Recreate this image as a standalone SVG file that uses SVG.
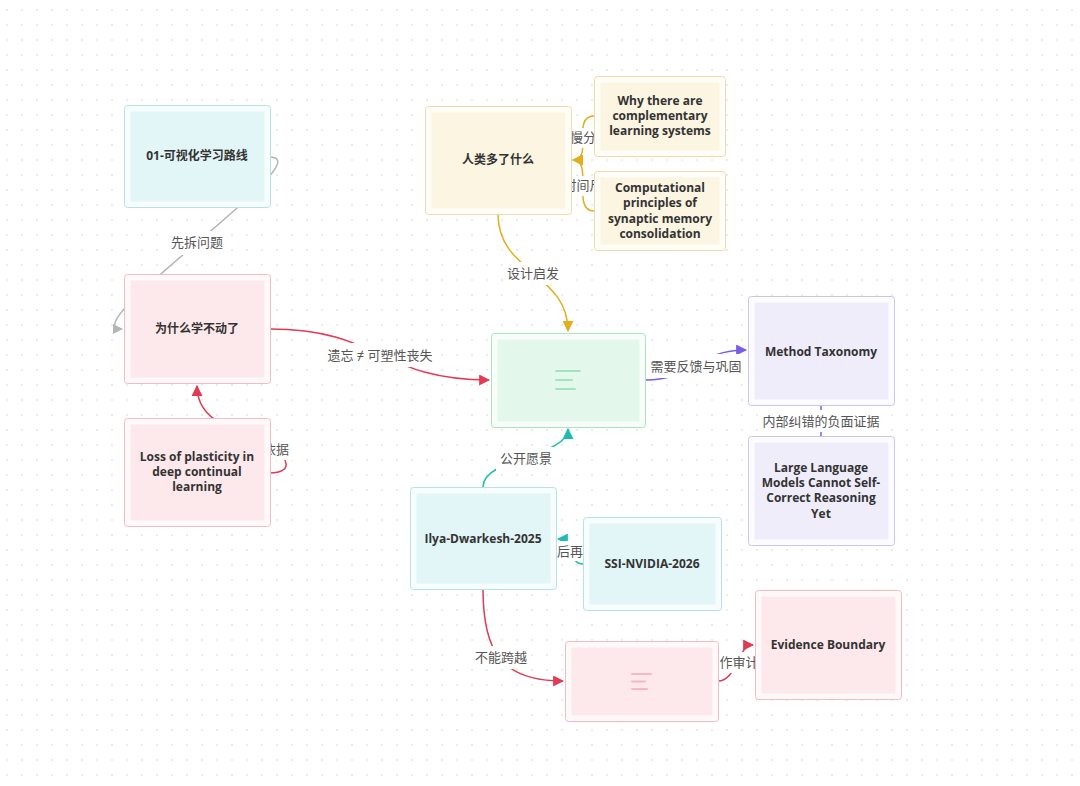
<svg xmlns="http://www.w3.org/2000/svg" width="1080" height="786" viewBox="0 0 1080 786">
<defs>
<pattern id="dots" x="0" y="0" width="15" height="15" patternUnits="userSpaceOnUse">
<circle cx="7" cy="10" r="0.9" fill="#e2e2e2"/>
</pattern>
<marker id="aGrey" viewBox="0 0 10 10" refX="9" refY="5" markerWidth="10" markerHeight="10" markerUnits="userSpaceOnUse" orient="auto"><path d="M0,0 L10,5 L0,10 z" fill="#b5b5b5"/></marker>
<marker id="aRed" viewBox="0 0 10 10" refX="9" refY="5" markerWidth="11" markerHeight="11" markerUnits="userSpaceOnUse" orient="auto"><path d="M0,0 L10,5 L0,10 z" fill="#e23a52"/></marker>
<marker id="aYel" viewBox="0 0 10 10" refX="9" refY="5" markerWidth="11" markerHeight="11" markerUnits="userSpaceOnUse" orient="auto"><path d="M0,0 L10,5 L0,10 z" fill="#e3ad1c"/></marker>
<marker id="aPur" viewBox="0 0 10 10" refX="9" refY="5" markerWidth="11" markerHeight="11" markerUnits="userSpaceOnUse" orient="auto"><path d="M0,0 L10,5 L0,10 z" fill="#7a5ce8"/></marker>
<marker id="aTeal" viewBox="0 0 10 10" refX="9" refY="5" markerWidth="11" markerHeight="11" markerUnits="userSpaceOnUse" orient="auto"><path d="M0,0 L10,5 L0,10 z" fill="#1fbab2"/></marker>
</defs>
<style>
.e{fill:none;stroke-width:1.5}
.grey{stroke:#b5b5b5}
.red{stroke:#e23a52}
.yel{stroke:#e3ad1c}
.pur{stroke:#7a5ce8}
.teal{stroke:#1fbab2}
.lb{fill:#ffffff}
.l{font-family:"Noto Sans","Noto Sans CJK SC",sans-serif;font-size:13px;fill:#555555;text-anchor:middle}
.o{stroke-width:1}
.t{font-family:"Open Sans","Noto Sans CJK SC",sans-serif;font-weight:700;font-size:12px;fill:#333333;text-anchor:middle}
.cy .o{fill:#f7fcfc;stroke:#b3e3e5}
.cy .i{fill:#e2f5f7}
.pk .o{fill:#fff9fa;stroke:#f3bcc4}
.pk .i{fill:#fde9eb}
.ye .o{fill:#fffdf7;stroke:#efdcaa}
.ye .i{fill:#fbf5e2}
.gr .o{fill:#f8fdfa;stroke:#a9e5c2}
.gr .i{fill:#e4f7eb}
.pu .o{fill:#fcfbff;stroke:#cdc4ec}
.pu .i{fill:#f0edfb}
.ic{stroke-width:2;stroke-linecap:round}
</style>
<rect x="0" y="0" width="1080" height="786" fill="#ffffff"/>
<rect x="0" y="0" width="1080" height="786" fill="url(#dots)"/>

<g id="connectors">
<path class="e grey" d="M270,157 C325,157 69,329 122,329" marker-end="url(#aGrey)"/>
<rect class="lb" x="168" y="231" width="58" height="24"/>
<text class="l" x="197" y="247">先拆问题</text>

<path class="e red" d="M270,329 C380,329 380,380 489,380" marker-end="url(#aRed)"/>
<rect class="lb" x="321" y="343" width="118" height="24"/>
<text class="l" x="380" y="360">遗忘 ≠ 可塑性丧失</text>

<path class="e red" d="M270,473 C293,473 290,458 270,446 L222,424 C205,415 197,402 197,386" marker-end="url(#aRed)"/>
<rect class="lb" x="261" y="440" width="32" height="20"/>
<text class="l" x="276" y="454">依据</text>

<path class="e yel" d="M594,116 C571,116 594,160 573,160" marker-end="url(#aYel)"/>
<path class="e yel" d="M594,211 C571,211 594,160 573,160" marker-end="url(#aYel)"/>
<rect class="lb" x="567" y="128" width="32" height="20"/>
<text class="l" x="583" y="142">慢分</text>
<rect class="lb" x="561" y="176" width="44" height="20"/>
<text class="l" x="583" y="190">时间尺</text>

<path class="e yel" d="M498,214 C498,273 568,273 568,331" marker-end="url(#aYel)"/>
<rect class="lb" x="503" y="262" width="60" height="23"/>
<text class="l" x="533" y="278">设计启发</text>

<path class="e pur" d="M645,380 C696,380 696,350 746,350" marker-end="url(#aPur)"/>
<rect class="lb" x="648" y="354" width="96" height="24"/>
<text class="l" x="696" y="371">需要反馈与巩固</text>

<path class="e pur" d="M821,406 L821,436"/>
<rect class="lb" x="760" y="410" width="122" height="22"/>
<text class="l" x="821" y="426">内部纠错的负面证据</text>

<path class="e teal" d="M483,487 C483,457 568,457 568,429" marker-end="url(#aTeal)"/>
<rect class="lb" x="496" y="447" width="60" height="23"/>
<text class="l" x="526" y="463">公开愿景</text>

<path class="e teal" d="M583,564 C569,564 569,539 558,539" marker-end="url(#aTeal)"/>
<rect class="lb" x="554" y="541" width="32" height="20"/>
<text class="l" x="570" y="556">后再</text>

<path class="e red" d="M483,589 C483,650 500,681 563,681" marker-end="url(#aRed)"/>
<rect class="lb" x="471" y="646" width="60" height="23"/>
<text class="l" x="501" y="662">不能跨越</text>

<path class="e red" d="M718,681 C737,681 737,645 753,645" marker-end="url(#aRed)"/>
<rect class="lb" x="716" y="652" width="46" height="21"/>
<text class="l" x="739" y="667">作审计</text>
</g>

<g id="node-01" class="cy">
<rect class="o" x="124.5" y="105.5" width="146" height="102" rx="3"/>
<rect class="i" x="130.5" y="111.5" width="134" height="90" rx="1"/>
<text class="t" x="197" y="160">01-可视化学习路线</text>
</g>

<g id="node-why-stuck" class="pk">
<rect class="o" x="124.5" y="274.5" width="146" height="109" rx="3"/>
<rect class="i" x="130.5" y="280.5" width="134" height="97" rx="1"/>
<text class="t" x="197" y="333">为什么学不动了</text>
</g>

<g id="node-loss" class="pk">
<rect class="o" x="124.5" y="418.5" width="146" height="108" rx="3"/>
<rect class="i" x="130.5" y="424.5" width="134" height="96" rx="1"/>
<text class="t" x="197" y="461">Loss of plasticity in</text>
<text class="t" x="197" y="476">deep continual</text>
<text class="t" x="197" y="491">learning</text>
</g>

<g id="node-human" class="ye">
<rect class="o" x="425.5" y="106.5" width="146" height="108" rx="3"/>
<rect class="i" x="431.5" y="112.5" width="134" height="96" rx="1"/>
<text class="t" x="498" y="164">人类多了什么</text>
</g>

<g id="node-cls" class="ye">
<rect class="o" x="594.5" y="76.5" width="131" height="80" rx="3"/>
<rect class="i" x="600.5" y="82.5" width="119" height="68" rx="1"/>
<text class="t" x="660" y="105">Why there are</text>
<text class="t" x="660" y="120">complementary</text>
<text class="t" x="660" y="135">learning systems</text>
</g>

<g id="node-synaptic" class="ye">
<rect class="o" x="594.5" y="171.5" width="131" height="79" rx="3"/>
<rect class="i" x="600.5" y="177.5" width="119" height="67" rx="1"/>
<text class="t" x="660" y="192">Computational</text>
<text class="t" x="660" y="207.3">principles of</text>
<text class="t" x="660" y="222.6">synaptic memory</text>
<text class="t" x="660" y="238">consolidation</text>
</g>

<g id="node-center" class="gr">
<rect class="o" x="491.5" y="333.5" width="154" height="94" rx="3"/>
<rect class="i" x="497.5" y="339.5" width="142" height="82" rx="1"/>
<g stroke="#a3e3bf" class="ic">
<line x1="556" y1="371" x2="580" y2="371"/>
<line x1="556" y1="380" x2="572" y2="380"/>
<line x1="556" y1="389" x2="575" y2="389"/>
</g>
</g>

<g id="node-method" class="pu">
<rect class="o" x="748.5" y="296.5" width="146" height="109" rx="3"/>
<rect class="i" x="754.5" y="302.5" width="134" height="97" rx="1"/>
<text class="t" x="821" y="356">Method Taxonomy</text>
</g>

<g id="node-llm" class="pu">
<rect class="o" x="748.5" y="436.5" width="146" height="109" rx="3"/>
<rect class="i" x="754.5" y="442.5" width="134" height="97" rx="1"/>
<text class="t" x="821" y="472">Large Language</text>
<text class="t" x="821" y="487">Models Cannot Self-</text>
<text class="t" x="821" y="502">Correct Reasoning</text>
<text class="t" x="821" y="518">Yet</text>
</g>

<g id="node-ilya" class="cy">
<rect class="o" x="410.5" y="487.5" width="146" height="102" rx="3"/>
<rect class="i" x="416.5" y="493.5" width="134" height="90" rx="1"/>
<text class="t" x="483" y="543">Ilya-Dwarkesh-2025</text>
</g>

<g id="node-ssi" class="cy">
<rect class="o" x="583.5" y="517.5" width="138" height="93" rx="3"/>
<rect class="i" x="589.5" y="523.5" width="126" height="81" rx="1"/>
<text class="t" x="652" y="568">SSI-NVIDIA-2026</text>
</g>

<g id="node-bottom" class="pk">
<rect class="o" x="565.5" y="641.5" width="153" height="80" rx="3"/>
<rect class="i" x="571.5" y="647.5" width="141" height="68" rx="1"/>
<g stroke="#f4b9c3" class="ic">
<line x1="632" y1="674" x2="651" y2="674"/>
<line x1="632" y1="681.5" x2="645" y2="681.5"/>
<line x1="632" y1="689" x2="647" y2="689"/>
</g>
</g>

<g id="node-evidence" class="pk">
<rect class="o" x="755.5" y="590.5" width="146" height="109" rx="3"/>
<rect class="i" x="761.5" y="596.5" width="134" height="97" rx="1"/>
<text class="t" x="828" y="649">Evidence Boundary</text>
</g>
</svg>
